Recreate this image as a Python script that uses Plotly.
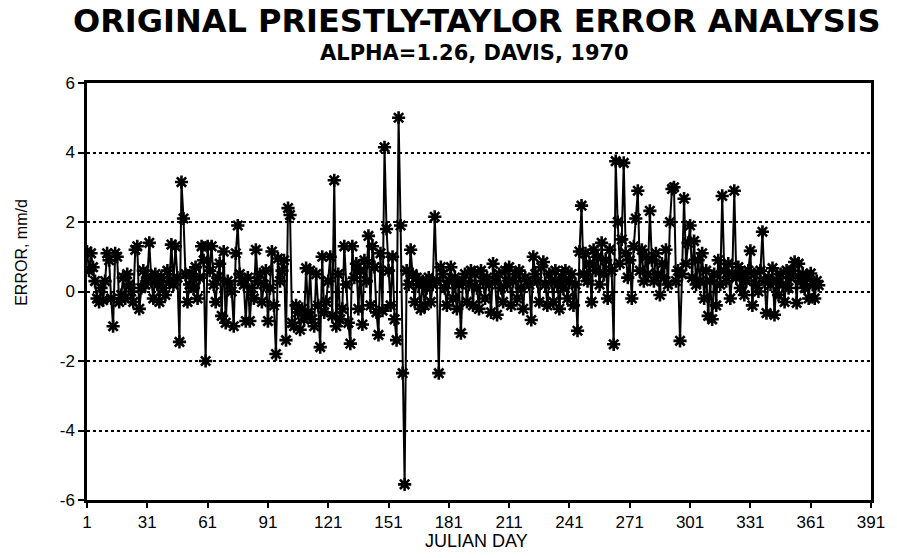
import plotly.graph_objects as go

days = list(range(1, 366))

errors = [
    1.15, 0.6, 1.1, 0.7, 0.3, -0.2, -0.3, 0.1, -0.25, 0.3,
    1.1, 0.9, -0.2, -1.0, 1.1, 1.0, -0.3, -0.1, 0.4, -0.2,
    0.5, 0.2, 0.0, -0.3, 1.2, 1.3, -0.5, 0.1, 0.6, 0.2,
    0.4, 1.4, 0.3, -0.2, 0.5, 0.2, -0.3, 0.4, 0.1, -0.1,
    0.6, 0.3, 1.35, 0.2, 1.3, 0.4, -1.45, 3.15, 2.1, 0.5,
    -0.3, 0.2, 0.5, 0.1, 0.7, -0.2, 0.4, 1.3, 0.9, -2.0,
    1.3, 0.6, 1.3, 0.2, -0.3, 0.4, 0.8, -0.7, 1.15, -0.9,
    0.3, 0.2, 0.0, -1.0, 1.1, 1.9, 0.5, 0.3, 0.2, -0.85,
    0.4, -0.85, 0.1, -0.2, 1.2, 0.3, 0.5, -0.3, 0.2, 0.6,
    -0.85, 0.1, 1.15, -0.4, -1.8, 0.95, 0.3, 0.6, 0.9, -1.4,
    2.4, 2.2, -0.9, -1.0, -0.4, -0.6, -1.1, -0.5, -0.8, 0.67,
    -0.6, 0.6, -0.8, -1.0, 0.5, -0.4, -1.6, 1.0, -0.6, -0.3,
    0.3, 1.0, -0.7, 3.2, -1.0, 0.5, -0.8, -0.5, 1.3, 0.2,
    -0.9, -1.5, 1.3, 0.4, 0.8, -0.5, 0.6, -0.95, 0.9, 0.3,
    1.6, -0.4, 1.3, 0.7, -0.6, -1.25, 1.1, -0.55, 4.15, 1.8,
    0.6, -0.4, 1.0, -0.8, -1.4, 5.0, 1.9, -2.35, -5.55, 0.6,
    0.2, 1.2, 0.5, -0.3, 0.4, 0.2, -0.5, 0.3, -0.4, 0.1,
    0.4, -0.3, 0.2, 2.15, 0.3, -2.35, 0.7, 0.5, 0.1, -0.4,
    0.3, 0.7, -0.2, 0.4, -0.5, 0.2, -1.2, 0.3, 0.5, -0.3,
    0.2, 0.6, -0.4, 0.5, 0.1, -0.5, 0.6, 0.3, -0.2, 0.4,
    0.2, -0.6, 0.8, 0.3, -0.67, 0.5, 0.1, -0.3, 0.6, 0.2,
    0.7, -0.4, 0.3, 0.5, -0.2, 0.6, 0.1, -0.5, 0.4, 0.3,
    0.2, -0.82, 1.0, 0.5, 0.3, -0.3, 0.7, 0.85, 0.2, -0.4,
    0.5, 0.3, -0.3, 0.6, 0.2, -0.5, 0.4, 0.1, 0.6, -0.2,
    0.3, 0.5, -0.4, 0.2, -1.13, 1.15, 2.47, 0.5, 1.1, 0.3,
    0.8, -0.3, 1.2, 0.6, 1.0, 0.2, 1.4, 0.5, 0.9, -0.2,
    1.2, 0.6, -1.52, 3.75, 2.0, 0.8, 1.5, 3.7, 1.1, 0.4,
    0.9, -0.2, 1.3, 2.1, 2.9, 0.6, 1.2, 0.3, 1.0, 0.5,
    2.32, 0.9, 0.3, 1.1, 0.5, -0.1, 0.8, 0.4, 1.2, 0.2,
    2.0, 2.95, 3.0, 0.3, 0.6, -1.42, 0.5, 2.67, 0.8, 1.4,
    1.9, 0.4, 1.45, 0.2, 0.9, 0.3, 1.1, -0.2, 0.6, -0.7,
    0.3, -0.8, 0.5, -0.4, 0.9, 0.2, 2.75, 0.6, 0.3, 0.8,
    -0.2, 0.5, 2.9, 0.4, 0.7, 0.1, 0.5, -0.1, 0.3, 0.6,
    1.17, -0.4, 0.5, 0.2, 0.0, 0.6, 1.72, 0.3, -0.62, 0.4,
    0.2, 0.67, -0.67, 0.3, -0.1, 0.5, 0.2, -0.3, 0.6, 0.1,
    0.4, 0.6, 0.85, -0.33, 0.8, 0.3, 0.5, 0.1, 0.4, -0.2,
    0.52, 0.2, -0.2, 0.3, 0.18,
]

x_ticks = [1, 31, 61, 91, 121, 151, 181, 211, 241, 271, 301, 331, 361, 391]
y_ticks = [-6, -4, -2, 0, 2, 4, 6]

title_text = "ORIGINAL PRIESTLY-TAYLOR ERROR ANALYSIS"
subtitle_text = "ALPHA=1.26, DAVIS, 1970"
x_title = "JULIAN DAY"
y_title = "ERROR, mm/d"

fig = go.Figure()
fig.add_trace(go.Scatter(
    x=days, y=errors, mode="lines+markers",
    line=dict(color="black", width=2),
    marker=dict(symbol="asterisk-open", size=11, color="black",
                line=dict(color="black", width=2.6)),
    showlegend=False,
))

fig.update_layout(
    width=897, height=558,
    margin=dict(l=87, r=22, t=83, b=58),
    paper_bgcolor="white", plot_bgcolor="white",
    font=dict(family="Liberation Sans, Arial, sans-serif", color="black"),
    annotations=[
        dict(text="<b>" + title_text + "</b>", x=0.497, y=1.148, xref="paper", yref="paper",
             xanchor="center", yanchor="middle", showarrow=False,
             font=dict(size=32, family="DejaVu Sans, sans-serif", color="black")),
        dict(text="<b>" + subtitle_text + "</b>", x=0.494, y=1.072, xref="paper", yref="paper",
             xanchor="center", yanchor="middle", showarrow=False,
             font=dict(size=21, family="DejaVu Sans, sans-serif", color="black")),
        dict(text=y_title, x=-0.083, y=0.595, xref="paper", yref="paper",
             xanchor="center", yanchor="middle", showarrow=False, textangle=-90,
             font=dict(size=16, family="Liberation Sans, Arial, sans-serif", color="black")),
        dict(text=x_title, x=0.497, y=-0.098, xref="paper", yref="paper",
             xanchor="center", yanchor="middle", showarrow=False,
             font=dict(size=18, family="Liberation Sans Narrow, Liberation Sans, Arial, sans-serif", color="black")),
    ],
)

fig.update_xaxes(
    range=[1, 391], tickvals=x_ticks, ticktext=[str(v) for v in x_ticks],
    showgrid=False, zeroline=False,
    showline=True, linecolor="black", linewidth=2.5, mirror=True,
    ticks="outside", ticklen=5, tickwidth=2, tickcolor="black",
    tickfont=dict(size=17, family="Liberation Sans Narrow, Liberation Sans, Arial", color="black"),
    tickprefix="<b>", ticksuffix="</b>",
)
fig.update_yaxes(
    range=[-6, 6], tickvals=y_ticks, ticktext=[str(v) for v in y_ticks],
    showgrid=True, gridcolor="black", gridwidth=1.8, griddash="dot",
    zeroline=False,
    showline=True, linecolor="black", linewidth=2.5, mirror=True,
    ticks="outside", ticklen=6, tickwidth=2, tickcolor="black",
    tickfont=dict(size=17, family="Liberation Sans, Arial", color="black"),
    tickprefix="<b>", ticksuffix="</b>",
)

fig.write_html("out.html")
